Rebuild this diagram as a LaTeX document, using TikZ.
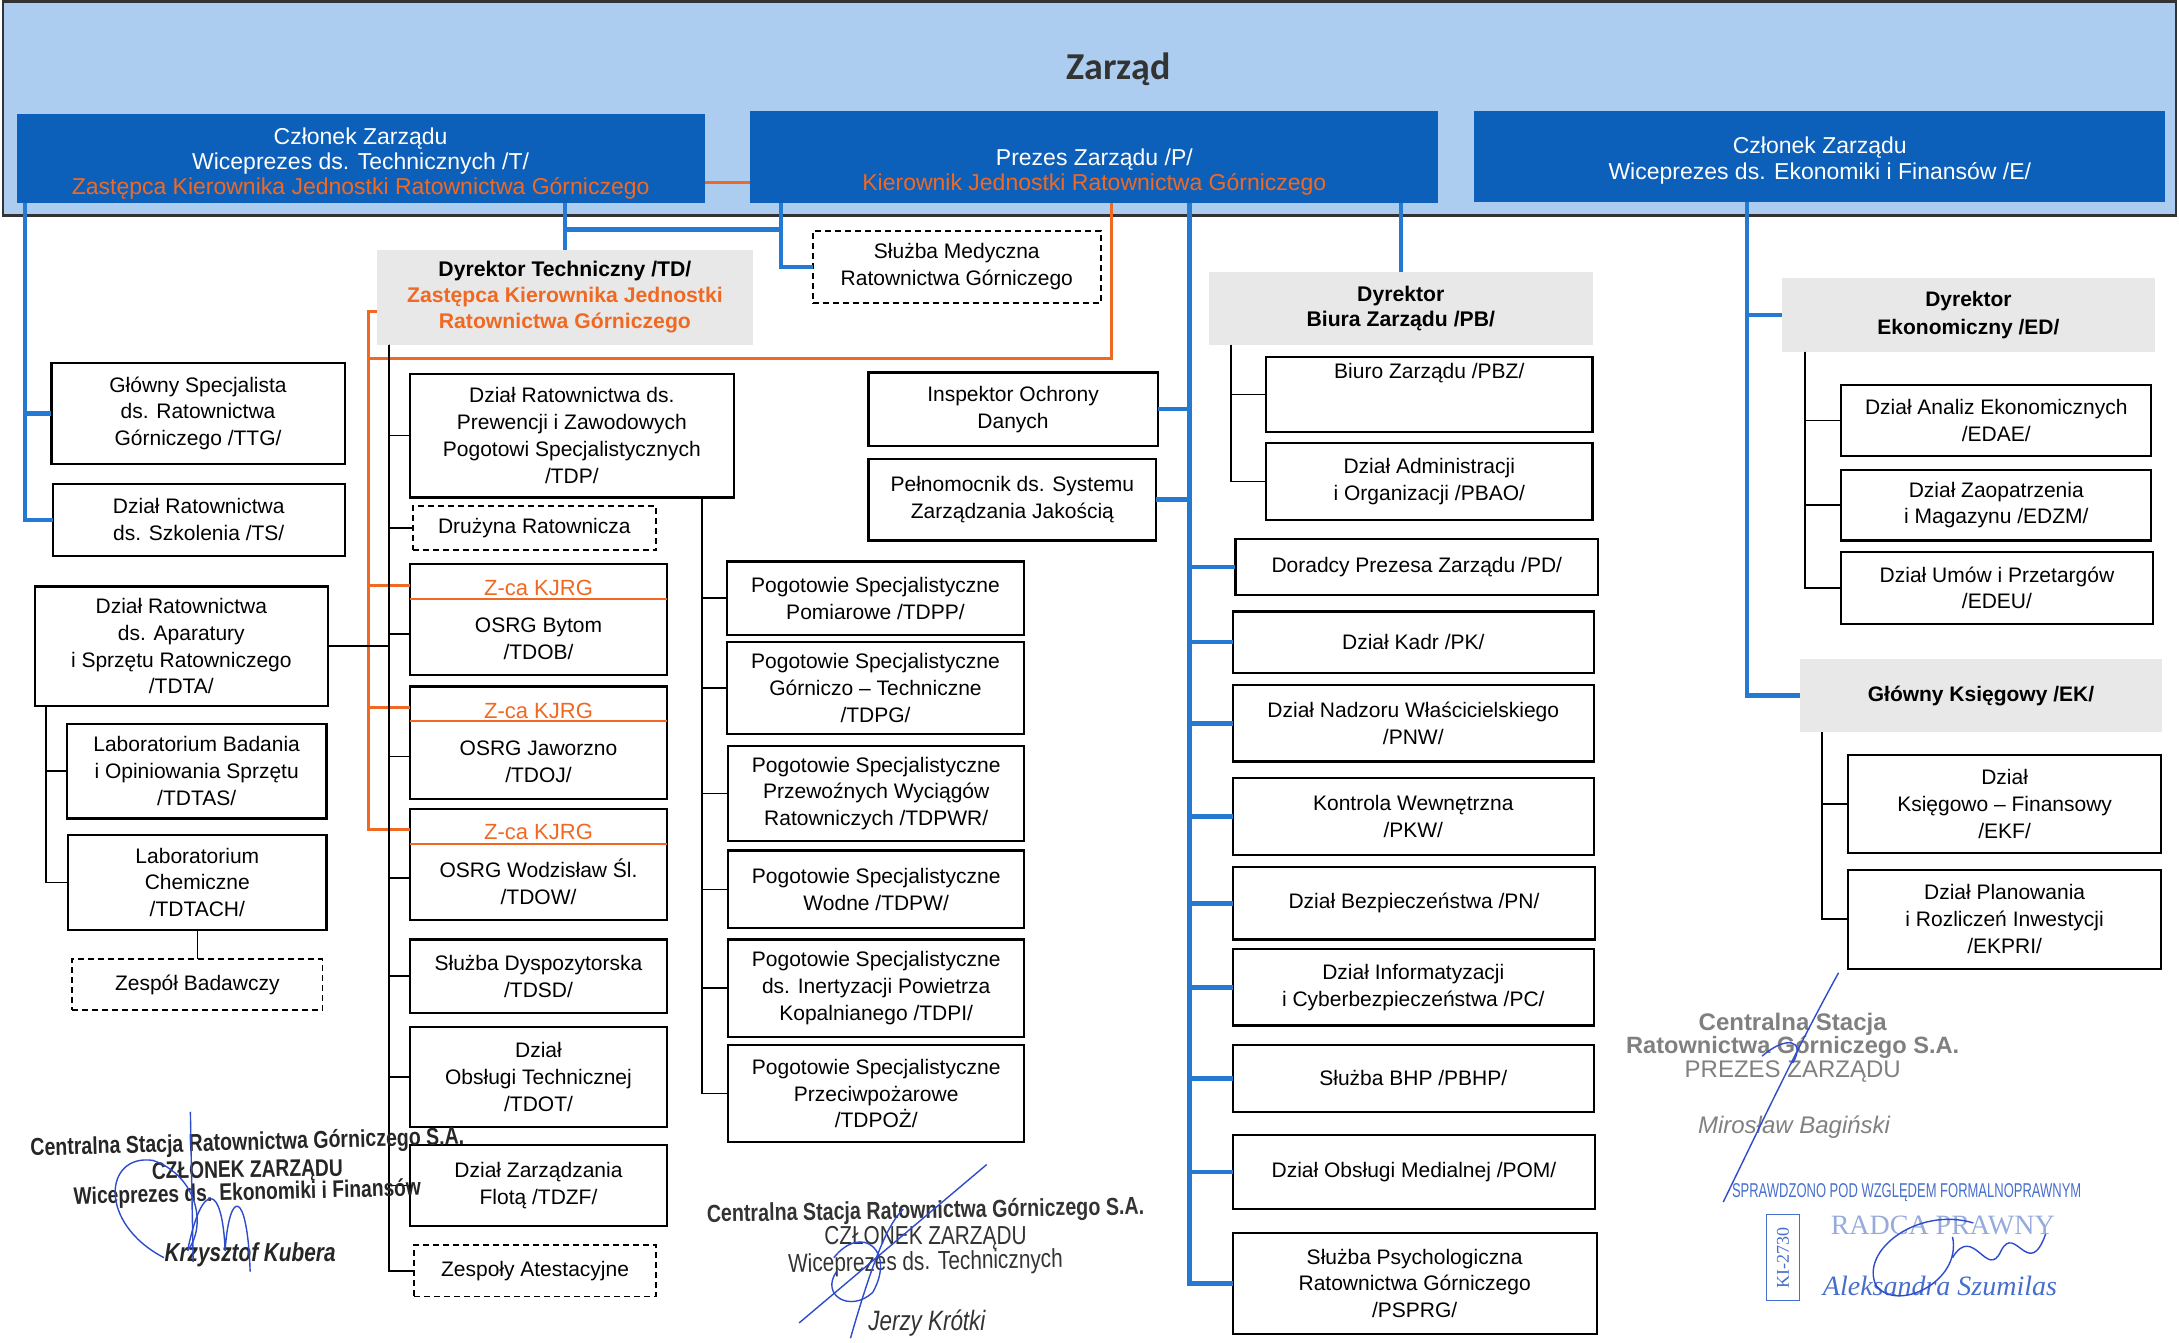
\documentclass[tikz,border=0pt]{standalone}
\usepackage{fontspec}
\setmainfont{Liberation Sans}
\newfontfamily\calib{Carlito}
\newfontfamily\stampfont[FakeStretch=0.8]{Liberation Sans}
\newfontfamily\tightfont[FakeStretch=0.65]{Liberation Sans}
\newfontfamily\stampserif{Liberation Serif}
\usepackage{xcolor}
\usetikzlibrary{calc}
\usetikzlibrary{positioning}

\newlength{\unitpx}\setlength{\unitpx}{0.695pt}
\definecolor{band}{RGB}{172,205,240}
\definecolor{boardblue}{RGB}{12,96,186}
\definecolor{kjrg}{RGB}{240,105,35}
\definecolor{link}{RGB}{35,122,208}
\definecolor{dirgray}{RGB}{232,232,232}
\definecolor{inkblue}{RGB}{45,75,205}
\definecolor{stampblue}{RGB}{70,110,205}
\definecolor{radca}{RGB}{150,170,220}

\tikzset{wh/.style 2 args={minimum width=#1\unitpx, minimum height=#2\unitpx}}

\begin{document}
\begin{tikzpicture}[x=0.695pt,y=-0.695pt,inner sep=0pt,outer sep=0pt,font=\fontsize{10.5}{13.4}\selectfont]
	\tikzstyle{unit}=[draw, line width=1.1pt, fill=white, align=center]
	\tikzstyle{dunit}=[unit, line width=0.9pt, dash pattern=on 3pt off 2pt]
	\tikzstyle{dir}=[fill=dirgray, align=center, font=\bfseries\fontsize{10.6}{13}\selectfont]
	\tikzstyle{board}=[fill=boardblue, text=white, align=center, font=\fontsize{11.5}{12.6}\selectfont]
	\tikzstyle{blk}=[line width=0.8pt]
	\tikzstyle{bl}=[link, line width=2.2pt]
	\tikzstyle{og}=[kjrg, line width=1.5pt]
	\tikzstyle{sig}=[inkblue, line width=0.7pt]
	\useasboundingbox (0,0) rectangle (1568,966.4);

	% zarzad
	\fill[band, draw=black!80, line width=1.2pt] (2,1) rectangle (1566,155);
	\node[font=\calib\bfseries\fontsize{19}{22}\selectfont, text=black!80] (Z) at (805,50) {Zarząd};
	\node[board, wh={495}{64}] (T) at (259.5,114) {{}\\[0.8pt]Członek Zarządu\\Wiceprezes ds. Technicznych /T/\\\textcolor{kjrg}{Zastępca Kierownika Jednostki Ratownictwa Górniczego}};
	\node[board, wh={495}{66}] (P) at (787.5,113) {{}\\[11pt]Prezes Zarządu /P/\\\textcolor{kjrg}{Kierownik Jednostki Ratownictwa Górniczego}};
	\node[board, wh={497}{65}] (E) at (1309.5,112.5) {{}\\[0pt]Członek Zarządu\\Wiceprezes ds. Ekonomiki i Finansów /E/};

	% dyrektorzy
	\node[dir, wh={271}{68}] (TD) at (406.5,214) {Dyrektor Techniczny /TD/\\\textcolor{kjrg}{Zastępca Kierownika Jednostki}\\\textcolor{kjrg}{Ratownictwa Górniczego}};
	\node[dunit, wh={207}{52}] (SMR) at (688.5,192) {Służba Medyczna\\Ratownictwa Górniczego};
	\node[dir, wh={276}{52}] (PB) at (1008,222) {Dyrektor\\Biura Zarządu /PB/};
	\node[dir, wh={269}{53}, font=\bfseries\fontsize{10.5}{14}\selectfont] (ED) at (1416.5,226.5) {Dyrektor\\Ekonomiczny /ED/};
	\node[dir, wh={261}{53}, font=\bfseries\fontsize{10.5}{14}\selectfont] (GK) at (1425.5,500.5) {Główny Księgowy /EK/};

	% pion T
	\node[unit, wh={211}{73}] (GS) at (142.5,297.5) {Główny Specjalista\\ds. Ratownictwa\\Górniczego /TTG/};
	\node[unit, wh={210}{52}] (TS) at (143,374) {Dział Ratownictwa\\ds. Szkolenia /TS/};
	\node[unit, wh={211}{86}] (TDTA) at (130.5,465) {Dział Ratownictwa\\ds. Aparatury\\i Sprzętu Ratowniczego\\/TDTA/};
	\node[unit, wh={187}{68}] (TDTAS) at (141.5,555) {Laboratorium Badania\\i Opiniowania Sprzętu\\/TDTAS/};
	\node[unit, wh={186}{68}] (TDTACH) at (142,635) {Laboratorium\\Chemiczne\\/TDTACH/};
	\node[dunit, wh={180}{37}] (ZB) at (142,708.5) {Zespół Badawczy};

	\node[unit, wh={233}{89}] (TDP) at (411.5,313.5) {Dział Ratownictwa ds.\\Prewencji i Zawodowych\\Pogotowi Specjalistycznych\\/TDP/};
	\node[dunit, wh={175}{32}] (DR) at (384.5,380) {Drużyna Ratownicza};
	\node[unit, wh={185}{80}] (OSRGB) at (387.5,446) {\textcolor{kjrg}{\fontsize{11}{13}\selectfont Z-ca KJRG}\\[5.5pt]OSRG Bytom\\/TDOB/};
	\node[unit, wh={185}{81}] (OSRGJ) at (387.5,534.5) {\textcolor{kjrg}{\fontsize{11}{13}\selectfont Z-ca KJRG}\\[5.5pt]OSRG Jaworzno\\/TDOJ/};
	\node[unit, wh={185}{80}] (OSRGW) at (387.5,622) {\textcolor{kjrg}{\fontsize{11}{13}\selectfont Z-ca KJRG}\\[5.5pt]OSRG Wodzisław Śl.\\/TDOW/};
	\node[unit, wh={185}{53}] (TDSD) at (387.5,702.5) {Służba Dyspozytorska\\/TDSD/};
	\node[unit, wh={185}{72}] (TDOT) at (387.5,775) {Dział\\Obsługi Technicznej\\/TDOT/};
	\node[unit, wh={185}{58}] (TDZF) at (387.5,853) {Dział Zarządzania\\Flotą /TDZF/};
	\node[dunit, wh={174}{37}] (ZA) at (385,914.5) {Zespoły Atestacyjne};

	\node[unit, wh={214}{53}] (TDPP) at (630,430.5) {Pogotowie Specjalistyczne\\Pomiarowe /TDPP/};
	\node[unit, wh={214}{66}] (TDPG) at (630,495) {Pogotowie Specjalistyczne\\Górniczo – Techniczne\\/TDPG/};
	\node[unit, wh={213}{68}] (TDPWR) at (630.5,571) {Pogotowie Specjalistyczne\\Przewoźnych Wyciągów\\Ratowniczych /TDPWR/};
	\node[unit, wh={213}{56}] (TDPW) at (630.5,640) {Pogotowie Specjalistyczne\\Wodne /TDPW/};
	\node[unit, wh={213}{70}] (TDPI) at (630.5,711) {Pogotowie Specjalistyczne\\ds. Inertyzacji Powietrza\\Kopalnianego /TDPI/};
	\node[unit, wh={213}{70}] (TDPOZ) at (630.5,787) {Pogotowie Specjalistyczne\\Przeciwpożarowe\\/TDPOŻ/};

	% pion P
	\node[unit, wh={208}{53}] (IOD) at (729,294.5) {Inspektor Ochrony\\Danych};
	\node[unit, wh={207}{59}] (PSZJ) at (728.5,359.5) {Pełnomocnik ds. Systemu\\Zarządzania Jakością};
	\node[unit, wh={235}{54}] (PBZ) at (1028.5,284) {Biuro Zarządu /PBZ/\\[10pt]};
	\node[unit, wh={235}{55}] (PBAO) at (1028.5,346.5) {Dział Administracji\\i Organizacji /PBAO/};
	\node[unit, wh={261}{40}] (PD) at (1019.5,408) {Doradcy Prezesa Zarządu /PD/};
	\node[unit, wh={260}{44}] (PK) at (1017,462) {Dział Kadr /PK/};
	\node[unit, wh={260}{55}] (PNW) at (1017,520.5) {Dział Nadzoru Właścicielskiego\\/PNW/};
	\node[unit, wh={260}{55}] (PKW) at (1017,587.5) {Kontrola Wewnętrzna\\/PKW/};
	\node[unit, wh={261}{52}] (PN) at (1017.5,650) {Dział Bezpieczeństwa /PN/};
	\node[unit, wh={260}{55}] (PC) at (1017,710.5) {Dział Informatyzacji\\i Cyberbezpieczeństwa /PC/};
	\node[unit, wh={260}{48}] (PBHP) at (1017,776) {Służba BHP /PBHP/};
	\node[unit, wh={261}{53}] (POM) at (1017.5,843.5) {Dział Obsługi Medialnej /POM/};
	\node[unit, wh={262}{73}] (PSPRG) at (1018,923.5) {Służba Psychologiczna\\Ratownictwa Górniczego\\/PSPRG/};

	% pion E
	\node[unit, wh={223}{51}] (EDAE) at (1436.5,302.5) {Dział Analiz Ekonomicznych\\/EDAE/};
	\node[unit, wh={223}{51}] (EDZM) at (1436.5,363.5) {Dział Zaopatrzenia\\i Magazynu /EDZM/};
	\node[unit, wh={224}{52}] (EDEU) at (1437,423) {Dział Umów i Przetargów\\/EDEU/};
	\node[unit, wh={225}{71}] (EKF) at (1442.5,578.5) {Dział\\Księgowo – Finansowy\\/EKF/};
	\node[unit, wh={225}{71}] (EKPRI) at (1442.5,661.5) {Dział Planowania\\i Rozliczeń Inwestycji\\/EKPRI/};

	\foreach \n in {OSRGB,OSRGJ,OSRGW}
		\draw[kjrg, line width=1pt] ([yshift=-25\unitpx]\n.north west) -- ([yshift=-25\unitpx]\n.north east);

	% polaczenia
	\coordinate (tl) at (18,146);
	\coordinate (tk) at (407,165);
	\coordinate (pm) at (562,146);
	\coordinate (ps) at (856,146);
	\coordinate (po) at (800,146);
	\coordinate (oc) at (265,258);
	\coordinate (ot) at (265,224);
	\coordinate (es) at (1257,145);
	\coordinate (tds) at (280,248);
	\coordinate (tdps) at (505,358);
	\coordinate (tas) at (33,508);
	\coordinate (pbs) at (886,248);
	\coordinate (eds) at (1299,253);
	\coordinate (gks) at (1311,527);

	\draw[bl] (tl) |- (GS.west);
	\draw[bl] (tl) |- (TS.west);
	\draw[bl] (TD.north |- T.south) -- (TD.north);
	\draw[bl] (tk) -- (tk -| pm);
	\draw[bl] (pm) |- (SMR.west);
	\foreach \n in {PD,PK,PNW,PKW,PN,PC,PBHP,POM,PSPRG}
		\draw[bl] (ps) |- (\n.west);
	\foreach \n in {IOD,PSZJ}
		\draw[bl] (ps) |- (\n.east);
	\draw[bl] (PB.north |- P.south) -- (PB.north);
	\foreach \n in {ED,GK}
		\draw[bl] (es) |- (\n.west);

	\draw[og] ([yshift=-17\unitpx]T.east) -- ([yshift=-17\unitpx]T.east -| P.west);
	\draw[og] (po) |- (oc);
	\draw[og] (TD.west |- ot) -- (ot) |- ([yshift=-15\unitpx]OSRGW.north west);
	\foreach \n in {OSRGB,OSRGJ}
		\draw[og] (ot) |- ([yshift=-15\unitpx]\n.north west);

	\foreach \n in {TDP,DR,TDSD,TDOT,TDZF,ZA}
		\draw[blk] (tds) |- (\n.west);
	\foreach \n in {OSRGB,OSRGJ,OSRGW}
		\draw[blk] (tds) |- ([yshift=-10\unitpx]\n.west);
	\draw[blk] (TDTA.east) -- (TDTA.east -| tds);
	\foreach \n in {TDPP,TDPG,TDPWR,TDPW,TDPI,TDPOZ}
		\draw[blk] (tdps) |- (\n.west);
	\foreach \n in {TDTAS,TDTACH}
		\draw[blk] (tas) |- (\n.west);
	\draw[blk] (TDTACH.south) -- (ZB.north);
	\foreach \n in {PBZ,PBAO}
		\draw[blk] (pbs) |- (\n.west);
	\foreach \n in {EDAE,EDZM,EDEU}
		\draw[blk] (eds) |- (\n.west);
	\foreach \n in {EKF,EKPRI}
		\draw[blk] (gks) |- (\n.west);

	% pieczatki
	\node[rotate=1.5, text=black!85, font=\stampfont\bfseries\fontsize{12.2}{13}\selectfont] (s1a) at (178,823) {Centralna Stacja Ratownictwa Górniczego S.A.};
	\node[rotate=1, text=black!85, font=\stampfont\bfseries\fontsize{12}{13}\selectfont] (s1b) at (178,843) {CZŁONEK ZARZĄDU};
	\node[rotate=1.5, text=black!85, font=\stampfont\bfseries\fontsize{12}{13}\selectfont] (s1c) at (178,859) {Wiceprezes ds. Ekonomiki i Finansów};
	\node[text=black!85, font=\stampfont\bfseries\itshape\fontsize{13}{14}\selectfont] (s1d) at (180,903) {Krzysztof Kubera};
	\draw[sig] (137,800) -- (139,908);
	\draw[sig] (118,905) .. controls (70,880) and (75,830) .. (110,835) .. controls (140,845) and (150,880) .. (135,900);
	\draw[sig] (135,900) .. controls (145,850) and (160,850) .. (162,900) .. controls (165,855) and (178,855) .. (180,915);

	\node[rotate=1, text=black!80, font=\stampfont\bfseries\fontsize{12.3}{13}\selectfont] (s2a) at (666,872) {Centralna Stacja Ratownictwa Górniczego S.A.};
	\node[text=black!80, font=\stampfont\fontsize{13}{14}\selectfont] (s2b) at (666,891) {CZŁONEK ZARZĄDU};
	\node[rotate=1, text=black!80, font=\stampfont\fontsize{13}{14}\selectfont] (s2c) at (666,909) {Wiceprezes ds. Technicznych};
	\node[text=black!80, font=\stampfont\itshape\fontsize{14}{15}\selectfont] (s2d) at (667,952) {Jerzy Krótki};
	\draw[sig] (710,838) -- (575,952);
	\draw[sig] (612,963) .. controls (630,900) and (640,880) .. (650,870);
	\draw[sig] (600,905) .. controls (620,880) and (645,900) .. (628,930) .. controls (612,945) and (590,932) .. (602,915);

	\node[text=black!50, font=\bfseries\fontsize{12}{13}\selectfont] (s3a) at (1290,737) {Centralna Stacja};
	\node[text=black!50, font=\bfseries\fontsize{11.8}{13}\selectfont] (s3b) at (1290,754) {Ratownictwa Górniczego S.A.};
	\node[text=black!50, font=\fontsize{12}{13}\selectfont] (s3c) at (1290,771) {PREZES ZARZĄDU};
	\node[text=black!50, font=\itshape\fontsize{12}{13}\selectfont] (s3d) at (1291,811) {Mirosław Bagiński};
	\draw[sig] (1323,700) .. controls (1290,760) and (1262,820) .. (1240,865);
	\draw[sig] (1268,760) .. controls (1285,745) and (1300,748) .. (1290,765);

	\node[text=stampblue, font=\tightfont\fontsize{10}{11}\selectfont] (s4a) at (1372,858) {SPRAWDZONO POD WZGLĘDEM FORMALNOPRAWNYM};
	\node[draw=stampblue, line width=0.6pt, rotate=90, wh={62}{24}, text=stampblue, font=\stampserif\fontsize{9}{10}\selectfont] (s4b) at (1283,905) {KI-2730};
	\node[text=radca, font=\stampserif\fontsize{14}{15}\selectfont] (s4c) at (1398,882) {RADCA PRAWNY};
	\node[text=stampblue, font=\stampserif\itshape\fontsize{14}{15}\selectfont] (s4d) at (1396,925) {Aleksandra Szumilas};
	\draw[sig] (1420,880) .. controls (1380,868) and (1338,900) .. (1350,925) .. controls (1365,945) and (1412,922) .. (1405,890);
	\draw[sig] (1405,905) .. controls (1420,880) and (1430,922) .. (1440,900) .. controls (1450,880) and (1460,922) .. (1472,888);
\end{tikzpicture}
\end{document}
